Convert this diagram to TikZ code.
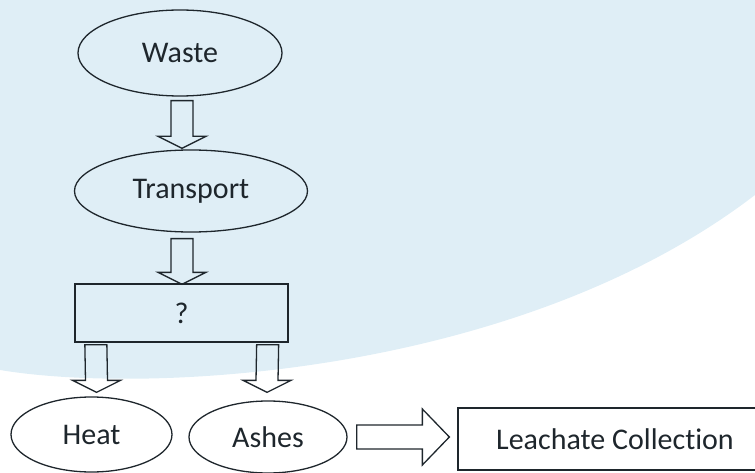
\documentclass[tikz,border=0pt]{standalone}
\usepackage{fontspec}
\setmainfont{Carlito}[Ligatures=NoCommon]
\usepackage{tikz}
\usetikzlibrary{arrows,shapes,positioning}
\usetikzlibrary{calc}

\definecolor{bgblue}{HTML}{DFEEF6}
\definecolor{ink}{HTML}{1E262C}

\tikzset{
	fatdown/.style={to path={($(\tikztostart)+(-11,0)$) -- ($(\tikztotarget)+(-11,-12)$) -- ($(\tikztotarget)+(-24,-12)$) -- (\tikztotarget)
		-- ($(\tikztotarget)+(24,-12)$) -- ($(\tikztotarget)+(11,-12)$) -- ($(\tikztostart)+(11,0)$) -- cycle}},
	fatright/.style={to path={($(\tikztostart)+(0,-12)$) -- ($(\tikztotarget)+(-27,-12)$) -- ($(\tikztotarget)+(-27,-28)$) -- (\tikztotarget)
		-- ($(\tikztotarget)+(-27,28)$) -- ($(\tikztotarget)+(-27,12)$) -- ($(\tikztostart)+(0,12)$) -- cycle}}
}

\begin{document}
\begin{tikzpicture}[x=1pt,y=-1pt,every node/.style={font=\fontsize{30}{36}\selectfont,text=ink,draw=ink,line width=1.3pt,inner sep=0pt}]
		\useasboundingbox (0,0) rectangle (755,473);
		\clip (0,0) rectangle (755,473);
		\fill[bgblue] (0,0) -- (755,0) -- (755,195) .. controls (520,375) and (150,395) .. (0,370) -- cycle;

		\node[ellipse,minimum width=204pt,minimum height=86pt] (waste) at (180,53) {Waste};
		\node[ellipse,minimum width=233pt,minimum height=82pt] (transport) at (191,191) {Transport};
		\node[rectangle,minimum width=213pt,minimum height=58pt] (qbox) at (181.5,313) {?};
		\node[ellipse,minimum width=161pt,minimum height=75pt] (heat) at (91.5,434.5) {Heat};
		\node[ellipse,minimum width=158pt,minimum height=72pt] (ashes) at (268,437) {Ashes};
		\node[rectangle,minimum width=314pt,minimum height=62pt] (leach) at (615,439) {Leachate Collection};

		\path[draw=ink,line width=1.3pt]
			($(waste.south)+(2,4)$) edge[fatdown] ($(transport.north)+(-9,-1)$)
			($(transport.south)+(-9,6)$) edge[fatdown] ($(qbox.north)+(0.5,1)$)
			($(qbox.south west)+(21.5,2)$) edge[fatdown] ($(heat.north)+(5,-4)$)
			($(qbox.south east)+(-21,2)$) edge[fatdown] ($(ashes.north)+(-1,-8)$)
			($(ashes.east)+(9,0)$) edge[fatright] ($(leach.west)+(-8,-2)$);
	\end{tikzpicture}
\end{document}
